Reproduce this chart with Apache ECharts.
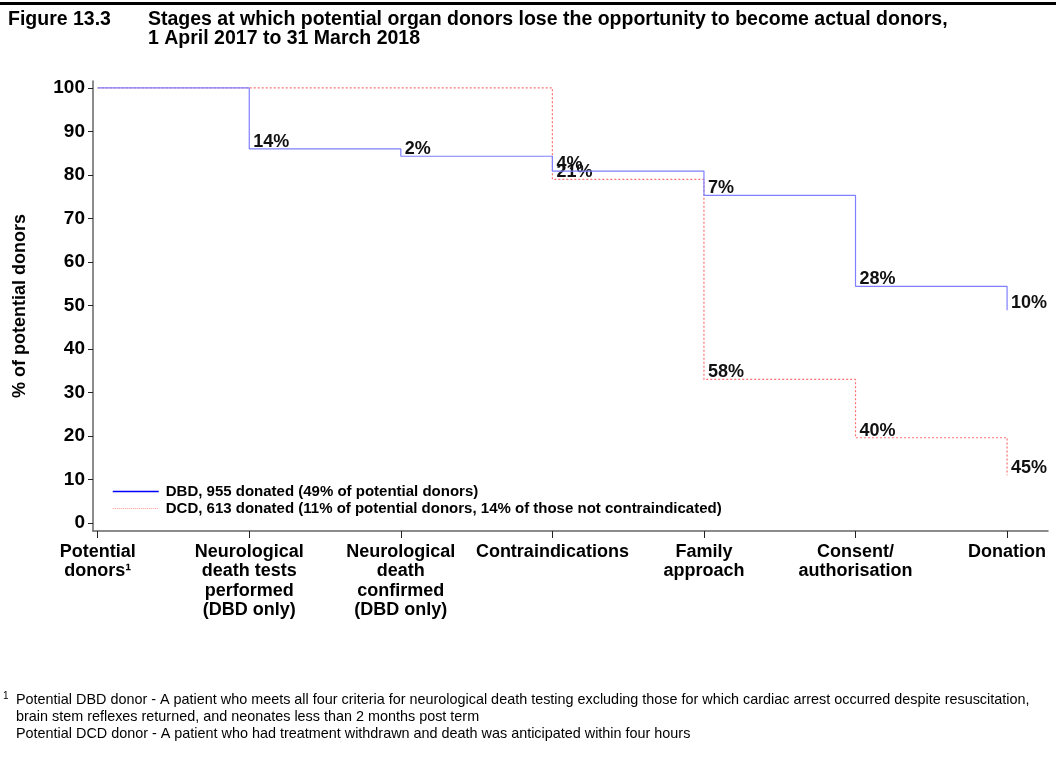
<!DOCTYPE html>
<html>
<head>
<meta charset="utf-8">
<script src="https://cdn.jsdelivr.net/npm/echarts@6/dist/echarts.min.js"></script>
<style>
  html, body { margin: 0; padding: 0; background: #fff; }
  #chart { width: 1056px; height: 771px; }
</style>
</head>
<body>
<div id="chart"></div>
<script>
// stages along the x axis
const stages = [
  'Potential\ndonors¹',
  'Neurological\ndeath tests\nperformed\n(DBD only)',
  'Neurological\ndeath\nconfirmed\n(DBD only)',
  'Contraindications',
  'Family\napproach',
  'Consent/\nauthorisation',
  'Donation'
]
// % of potential donors remaining at each stage
const dbdValues = [100, 86, 84.3, 80.9, 75.3, 54.4, 48.9]
const dcdValues = [100, 100, 100, 79, 33, 19.6, 11]
// % lost at each stage
const dbdLabels = ['', '14%', '2%', '4%', '7%', '28%', '10%']
const dcdLabels = ['', '', '', '21%', '58%', '40%', '45%']
const yTicks = [0, 10, 20, 30, 40, 50, 60, 70, 80, 90, 100]
const xTicks = [0, 1, 2, 3, 4, 5, 6]

const dbdName = 'DBD, 955 donated (49% of potential donors)'
const dcdName = 'DCD, 613 donated (11% of potential donors, 14% of those not contraindicated)'

const font = 'Arial, "Liberation Sans", sans-serif'

const chart = echarts.init(document.getElementById('chart'))

function pctLabel(labels) {
  return {
    show: true,
    position: 'right',
    distance: 3,
    offset: [0, -7],
    color: '#111',
    fontFamily: font,
    fontWeight: 'bold',
    fontSize: 18,
    formatter: p => labels[p.dataIndex]
  }
}

chart.setOption({
  animation: false,
  textStyle: { fontFamily: font },
  grid: { left: 93, right: 8, top: 81, bottom: 240 },
  graphic: [
    { type: 'rect', left: 0, top: 2, shape: { width: 1056, height: 3 }, style: { fill: '#000' } },
    {
      type: 'text', left: 8, top: 10,
      style: { text: 'Figure 13.3', font: 'bold 19.5px ' + font, fill: '#000' }
    },
    {
      type: 'text', left: 148, top: 10,
      style: {
        text: 'Stages at which potential organ donors lose the opportunity to become actual donors,\n1 April 2017 to 31 March 2018',
        font: 'bold 19.5px ' + font, fill: '#000', lineHeight: 19
      }
    },
    {
      type: 'text', left: 3, top: 691,
      style: { text: '1', font: '10px ' + font, fill: '#000' }
    },
    {
      type: 'text', left: 16, top: 692,
      style: {
        text: 'Potential DBD donor - A patient who meets all four criteria for neurological death testing excluding those for which cardiac arrest occurred despite resuscitation,\nbrain stem reflexes returned, and neonates less than 2 months post term\nPotential DCD donor - A patient who had treatment withdrawn and death was anticipated within four hours',
        font: '14.4px ' + font, fill: '#000', lineHeight: 17
      }
    }
  ],
  legend: {
    orient: 'vertical',
    left: 112,
    top: 484,
    padding: 0,
    itemWidth: 46,
    itemHeight: 14,
    itemGap: 2,
    textStyle: { fontFamily: font, fontWeight: 'bold', fontSize: 15, color: '#000', padding: [0, 0, 0, 2] },
    data: [
      { name: dbdName, itemStyle: { opacity: 0 }, lineStyle: { color: '#0000ff', width: 1.5, type: 'solid' } },
      { name: dcdName, itemStyle: { opacity: 0 }, lineStyle: { color: '#ff9090', width: 1, type: 'dotted' } }
    ]
  },
  xAxis: {
    type: 'value',
    min: -0.031,
    max: 6.27,
    splitLine: { show: false },
    axisLine: { show: true, onZero: false, lineStyle: { color: '#666', width: 1.5 } },
    axisTick: { show: true, length: 7, customValues: xTicks, lineStyle: { color: '#222', width: 1 } },
    axisLabel: {
      customValues: xTicks,
      margin: 11,
      color: '#000',
      fontFamily: font,
      fontWeight: 'bold',
      fontSize: 18,
      lineHeight: 19.5,
      verticalAlign: 'top',
      formatter: v => stages[Math.round(v)]
    }
  },
  yAxis: {
    type: 'value',
    min: -1.84,
    max: 101.6,
    name: '% of potential donors',
    nameLocation: 'middle',
    nameGap: 64,
    nameTextStyle: { fontFamily: font, fontWeight: 'bold', fontSize: 18, color: '#000' },
    splitLine: { show: false },
    axisLine: { show: true, onZero: false, lineStyle: { color: '#666', width: 1.5 } },
    axisTick: { show: true, length: 5, customValues: yTicks, lineStyle: { color: '#222', width: 1 } },
    axisLabel: {
      customValues: yTicks,
      margin: 8,
      color: '#000',
      fontFamily: font,
      fontWeight: 'bold',
      fontSize: 19
    }
  },
  series: [
    {
      name: dcdName,
      type: 'line',
      step: 'end',
      symbol: 'circle',
      symbolSize: 2,
      itemStyle: { color: 'rgba(0,0,0,0)' },
      lineStyle: { color: '#ff7070', width: 1.2, type: [2, 2] },
      label: pctLabel(dcdLabels),
      data: dcdValues.map((v, i) => [i, v]),
      z: 2
    },
    {
      name: dbdName,
      type: 'line',
      step: 'end',
      symbol: 'circle',
      symbolSize: 2,
      itemStyle: { color: 'rgba(0,0,0,0)' },
      lineStyle: { color: '#7f7fff', width: 1.2 },
      label: pctLabel(dbdLabels),
      data: dbdValues.map((v, i) => [i, v]),
      z: 3
    }
  ]
})
</script>
</body>
</html>
